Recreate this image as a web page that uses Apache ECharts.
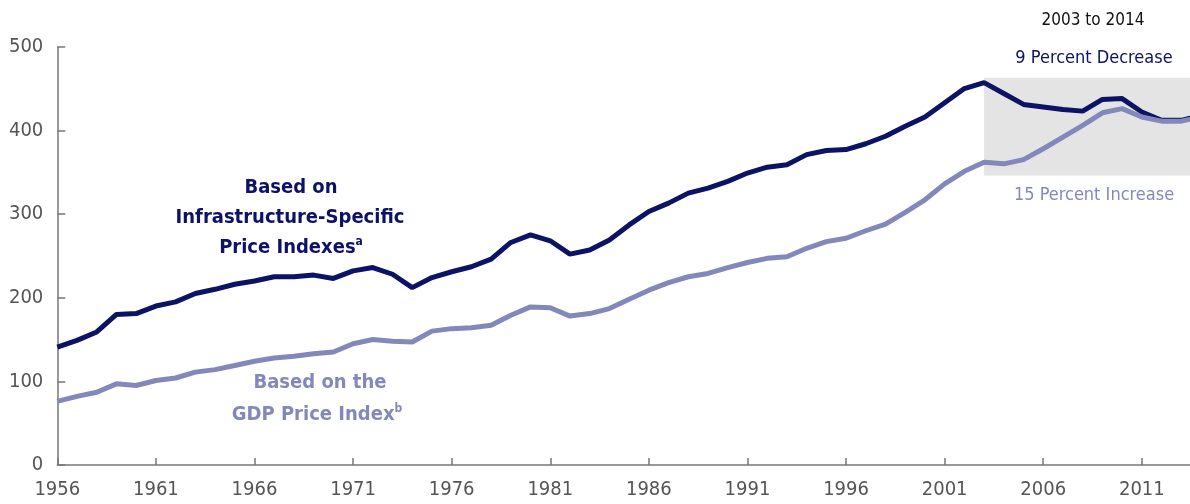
<!DOCTYPE html>
<html>
<head>
<meta charset="utf-8">
<script src="https://cdn.jsdelivr.net/npm/echarts@6/dist/echarts.min.js"></script>
<style>html,body{margin:0;padding:0;background:#fff;overflow:hidden}#c{width:1201px;height:504px}</style>
</head>
<body>
<div id="c"></div>
<script>
const years = ['1956','1957','1958','1959','1960','1961','1962','1963','1964','1965','1966','1967','1968','1969','1970','1971','1972','1973','1974','1975','1976','1977','1978','1979','1980','1981','1982','1983','1984','1985','1986','1987','1988','1989','1990','1991','1992','1993','1994','1995','1996','1997','1998','1999','2000','2001','2002','2003','2004','2005','2006','2007','2008','2009','2010','2011','2012','2013','2014'];
const infrastructure = [141,149,159,180,181,190,195,205,210,216,220,225,225,227,223,232,236,228,212,224,231,237,246,266,275,268,252,257,269,287,303,313,325,331,339,349,356,359,371,376,377,384,393,405,416,433,450,457,444,431,428,425,423,437,438,422,412,412,418];
const gdp = [76,82,87,97,95,101,104,111,114,119,124,128,130,133,135,145,150,148,147,160,163,164,167,179,189,188,178,181,187,198,209,218,225,229,236,242,247,249,259,267,271,280,288,302,317,336,351,362,360,365,378,392,406,421,426,416,411,411,416];
const yTicks = [0,100,200,300,400,500];
const highlightYears = ['2003','2014'];
const highlightRange = [346,463];

const NAVY = '#0c1264';
const LAV = '#8388ba';
const FONT = "'Liberation Sans Narrow','DejaVu Sans Condensed','Noto Sans',sans-serif";

const supStyle = (c) => ({fontSize:12, fontWeight:'bold', fontFamily:FONT, fill:c, color:c, verticalAlign:'top', lineHeight:8});
const mainStyle = (c) => ({fontSize:20, fontWeight:'bold', fontFamily:FONT, fill:c, color:c, lineHeight:24});

const chart = echarts.init(document.getElementById('c'), null, {renderer:'canvas'});
chart.setOption({
  backgroundColor:'#ffffff',
  animation:false,
  grid:{left:57.3, right:0, top:46.7, bottom:39, containLabel:false},
  xAxis:{
    type:'category', data:years, boundaryGap:false,
    axisLine:{lineStyle:{color:'#777', width:1.5}},
    axisTick:{show:true, inside:true, length:7, interval:4, lineStyle:{color:'#777', width:1.5}},
    axisLabel:{interval:4, color:'#555', fontFamily:FONT, fontSize:20, margin:15},
    splitLine:{show:false}
  },
  yAxis:{
    type:'value', min:yTicks[0], max:yTicks[yTicks.length-1], interval:100,
    axisLine:{show:true, lineStyle:{color:'#777', width:1.5}},
    axisTick:{show:true, inside:true, length:8, lineStyle:{color:'#777', width:1.5}},
    axisLabel:{color:'#555', fontFamily:FONT, fontSize:20, margin:14},
    splitLine:{show:false}
  },
  series:[
    {
      type:'line', data:infrastructure, symbol:'none', smooth:false,
      lineStyle:{color:NAVY, width:5}, z:3,
      markArea:{
        silent:true,
        itemStyle:{color:'#e4e4e4'},
        data:[[{xAxis:highlightYears[0], yAxis:highlightRange[0]},{xAxis:highlightYears[1], yAxis:highlightRange[1]}]],
        z:1
      }
    },
    {
      type:'line', data:gdp, symbol:'none', smooth:false,
      lineStyle:{color:LAV, width:5}, z:4
    }
  ],
  graphic:[
    {type:'text', x:291, y:188, style:{text:'Based on', font:'bold 20px '+FONT, fill:NAVY, align:'center', verticalAlign:'middle'}},
    {type:'text', x:290, y:218, style:{text:'Infrastructure-Specific', font:'bold 20px '+FONT, fill:NAVY, align:'center', verticalAlign:'middle'}},
    {type:'text', x:291, y:248, style:{text:'{m|Price Indexes}{s|a}', fill:NAVY, align:'center', verticalAlign:'middle',
      rich:{m:mainStyle(NAVY), s:supStyle(NAVY)}}},
    {type:'text', x:320, y:383, style:{text:'Based on the', font:'bold 20px '+FONT, fill:LAV, align:'center', verticalAlign:'middle'}},
    {type:'text', x:317, y:415, style:{text:'{m|GDP Price Index}{s|b}', fill:LAV, align:'center', verticalAlign:'middle',
      rich:{m:mainStyle(LAV), s:supStyle(LAV)}}},
    {type:'text', x:1093, y:21, style:{text:'2003 to 2014', font:'17px '+FONT, fill:'#111', align:'center', verticalAlign:'middle'}},
    {type:'text', x:1094, y:58, style:{text:'9 Percent Decrease', font:'18px '+FONT, fill:NAVY, align:'center', verticalAlign:'middle'}},
    {type:'text', x:1094, y:195, style:{text:'15 Percent Increase', font:'18px '+FONT, fill:LAV, align:'center', verticalAlign:'middle'}}
  ]
});
</script>
</body>
</html>
